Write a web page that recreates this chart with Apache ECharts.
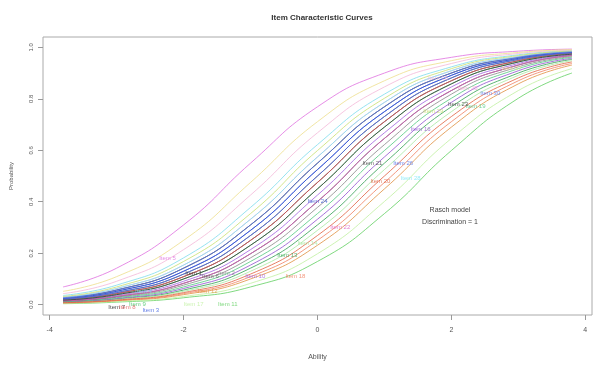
<!DOCTYPE html>
<html>
<head>
<meta charset="utf-8">
<script src="https://cdn.jsdelivr.net/npm/echarts@6/dist/echarts.min.js"></script>
<style>
  html, body { margin: 0; padding: 0; background: #fff; }
  #chart { width: 601px; height: 369px; }
</style>
</head>
<body>
<div id="chart"></div>
<script>
// ability points the curves are read at
const ability = [-3.8, -3, -2, -1, 0, 1, 2, 3, 3.8]

const itemNames = [
  'Item 1', 'Item 2', 'Item 3', 'Item 4', 'Item 5', 'Item 6', 'Item 7', 'Item 8', 'Item 9', 'Item 10',
  'Item 11', 'Item 12', 'Item 13', 'Item 14', 'Item 15', 'Item 16', 'Item 17', 'Item 18', 'Item 19', 'Item 20',
  'Item 21', 'Item 22', 'Item 23', 'Item 24', 'Item 25', 'Item 26', 'Item 27', 'Item 28', 'Item 29', 'Item 30'
]

// probability of each item at the ability points above
const probability = [
  [0.020, 0.043, 0.109, 0.250, 0.475, 0.711, 0.870, 0.948, 0.976],
  [0.013, 0.029, 0.076, 0.182, 0.378, 0.622, 0.818, 0.924, 0.964],
  [0.024, 0.052, 0.130, 0.289, 0.525, 0.750, 0.891, 0.957, 0.980],
  [0.036, 0.076, 0.182, 0.378, 0.622, 0.818, 0.924, 0.971, 0.987],
  [0.069, 0.142, 0.310, 0.550, 0.769, 0.900, 0.961, 0.985, 0.993],
  [0.022, 0.047, 0.119, 0.269, 0.500, 0.731, 0.881, 0.953, 0.978],
  [0.027, 0.057, 0.142, 0.310, 0.550, 0.769, 0.900, 0.961, 0.982],
  [0.020, 0.043, 0.109, 0.250, 0.475, 0.711, 0.870, 0.948, 0.976],
  [0.018, 0.039, 0.100, 0.231, 0.450, 0.690, 0.858, 0.943, 0.973],
  [0.016, 0.036, 0.091, 0.214, 0.426, 0.668, 0.846, 0.937, 0.971],
  [0.004, 0.010, 0.027, 0.069, 0.168, 0.354, 0.599, 0.802, 0.900],
  [0.007, 0.015, 0.039, 0.100, 0.231, 0.450, 0.690, 0.858, 0.931],
  [0.010, 0.022, 0.057, 0.142, 0.310, 0.550, 0.769, 0.900, 0.953],
  [0.009, 0.020, 0.052, 0.130, 0.289, 0.525, 0.750, 0.891, 0.948],
  [0.043, 0.091, 0.214, 0.426, 0.668, 0.846, 0.937, 0.976, 0.989],
  [0.011, 0.024, 0.063, 0.154, 0.332, 0.574, 0.786, 0.909, 0.957],
  [0.005, 0.012, 0.032, 0.083, 0.198, 0.401, 0.646, 0.832, 0.917],
  [0.007, 0.016, 0.043, 0.109, 0.250, 0.475, 0.711, 0.870, 0.937],
  [0.012, 0.027, 0.069, 0.168, 0.354, 0.599, 0.802, 0.917, 0.961],
  [0.008, 0.018, 0.047, 0.119, 0.269, 0.500, 0.731, 0.881, 0.943],
  [0.015, 0.032, 0.083, 0.198, 0.401, 0.646, 0.832, 0.931, 0.968],
  [0.015, 0.032, 0.083, 0.198, 0.401, 0.646, 0.832, 0.931, 0.968],
  [0.018, 0.039, 0.100, 0.231, 0.450, 0.690, 0.858, 0.943, 0.973],
  [0.024, 0.052, 0.130, 0.289, 0.525, 0.750, 0.891, 0.957, 0.980],
  [0.029, 0.063, 0.154, 0.332, 0.574, 0.786, 0.909, 0.964, 0.984],
  [0.022, 0.047, 0.119, 0.269, 0.500, 0.731, 0.881, 0.953, 0.978],
  [0.052, 0.109, 0.250, 0.475, 0.711, 0.870, 0.948, 0.980, 0.991],
  [0.029, 0.063, 0.154, 0.332, 0.574, 0.786, 0.909, 0.964, 0.984],
  [0.032, 0.069, 0.168, 0.354, 0.599, 0.802, 0.917, 0.968, 0.985],
  [0.027, 0.057, 0.142, 0.310, 0.550, 0.769, 0.900, 0.961, 0.982]
]

// where each item name is written (ability, probability)
const labelAbility = [-1.85, -1.36, -2.49, -2.6, -2.24, -1.6, -3.0, -2.84, -2.69, -0.93,
  -1.34, -1.64, -0.45, -0.15, 1.8, 1.54, -1.85, -0.33, 2.36, 0.94,
  0.82, 0.34, 2.1, 0.0, 2.24, 1.28, 2.9, 1.39, 1.73, 2.58]
const labelProb = [0.12, 0.12, -0.02, 0.05, 0.18, 0.11, -0.01, -0.01, 0.0, 0.11,
  0.0, 0.05, 0.19, 0.24, 0.88, 0.68, 0.0, 0.11, 0.77, 0.48,
  0.55, 0.30, 0.78, 0.40, 0.84, 0.55, 0.92, 0.49, 0.75, 0.82]

const abilityTicks = [-4, -2, 0, 2, 4]
const probTicks = [0, 0.2, 0.4, 0.6, 0.8, 1]

const colors = [
  '#333333', '#888888', '#4060e0', '#7ddcec', '#e070e0', '#555555', '#222222', '#e05555', '#40c060', '#a060e0',
  '#60d060', '#e09040', '#30a050', '#a8e8a0', '#f4b8d8', '#9050d0', '#c0f0a0', '#f08060', '#50c880', '#e06040',
  '#444444', '#e060c0', '#3a3a3a', '#3050d0', '#f0a0d0', '#4a6ae8', '#eedf8c', '#80e8f8', '#c8e070', '#5a7af0'
]

const font = 'Liberation Sans, Arial, sans-serif'
const Chart = echarts.init(document.getElementById('chart'), null, { renderer: 'canvas' })

const lineSeries = itemNames.map((name, i) => ({
  name: name,
  type: 'line',
  smooth: 0.5,
  showSymbol: false,
  silent: true,
  lineStyle: { width: 1, color: colors[i], opacity: 0.8 },
  data: ability.map((a, j) => [a, probability[i][j]])
}))

const labelSeries = {
  type: 'scatter',
  symbolSize: 0,
  silent: true,
  z: 5,
  label: {
    show: true,
    position: 'inside',
    fontSize: 6,
    fontFamily: font,
    formatter: p => itemNames[p.dataIndex]
  },
  data: itemNames.map((name, i) => ({
    value: [labelAbility[i], labelProb[i]],
    label: { color: colors[i] }
  }))
}

const option = {
  animation: false,
  backgroundColor: '#fff',
  title: {
    text: 'Item Characteristic Curves',
    left: 317,
    top: 9,
    textAlign: 'center',
    textStyle: { fontSize: 8, fontWeight: 'bold', color: '#333', fontFamily: font }
  },
  grid: {
    left: 42, right: 9, top: 37, bottom: 54,
    show: true, borderColor: '#aaa', borderWidth: 1, backgroundColor: 'transparent'
  },
  xAxis: {
    type: 'value',
    min: -4.1,
    max: 4.1,
    name: 'Ability',
    nameLocation: 'middle',
    nameGap: 39,
    nameTextStyle: { fontSize: 7, color: '#555', fontFamily: font },
    axisLine: { show: false, onZero: false },
    axisTick: { show: true, length: 5, customValues: abilityTicks, lineStyle: { color: '#999' } },
    axisLabel: { customValues: abilityTicks, fontSize: 7, color: '#555', margin: 12, fontFamily: font },
    splitLine: { show: false }
  },
  yAxis: {
    type: 'value',
    min: -0.04,
    max: 1.04,
    name: 'Probability',
    nameLocation: 'middle',
    nameGap: 29,
    nameTextStyle: { fontSize: 6, color: '#555', fontFamily: font },
    axisLine: { show: false, onZero: false },
    axisTick: { show: true, length: 5, customValues: probTicks, lineStyle: { color: '#999' } },
    axisLabel: {
      customValues: probTicks, rotate: 90, fontSize: 6, color: '#555', margin: 9, fontFamily: font,
      formatter: v => v.toFixed(1)
    },
    splitLine: { show: false }
  },
  graphic: [
    {
      type: 'text', x: 450, y: 210,
      style: { text: 'Rasch model', fontSize: 7, fill: '#444', align: 'center', verticalAlign: 'middle', fontFamily: font }
    },
    {
      type: 'text', x: 450, y: 222,
      style: { text: 'Discrimination = 1', fontSize: 7, fill: '#444', align: 'center', verticalAlign: 'middle', fontFamily: font }
    }
  ],
  series: lineSeries.concat([labelSeries])
}

option && Chart.setOption(option)
</script>
</body>
</html>
